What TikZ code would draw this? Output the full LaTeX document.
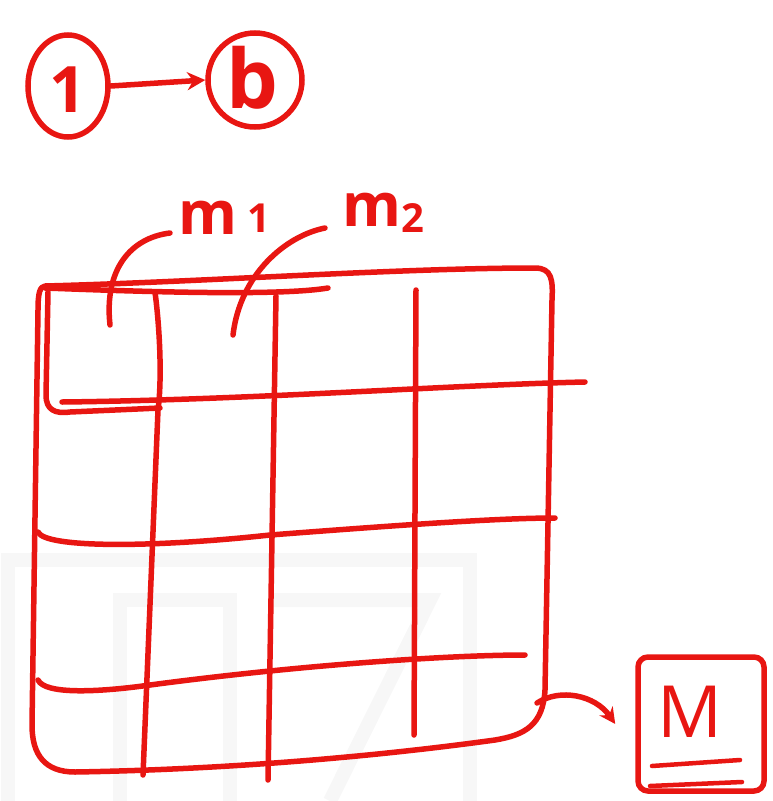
\documentclass[tikz,border=0pt]{standalone}
\usepackage{fontspec}
\setmainfont{Open Sans}
\usetikzlibrary{arrows.meta,shapes.geometric}
\definecolor{pen}{RGB}{232,22,18}
\definecolor{wm}{RGB}{247,247,247}
\tikzset{
  ink/.style={draw=pen, line width=5.5pt, line cap=round, line join=round},
  thinink/.style={draw=pen, line width=4.5pt, line cap=round, line join=round},
  hand/.style={text=pen, inner sep=0pt},
  wmark/.style={draw=wm, line width=14pt},
}
\begin{document}
\begin{tikzpicture}[x=1pt,y=-1pt]
\useasboundingbox (0,0) rectangle (773,801);
% faint watermark
\draw[wmark] (8,801) -- (8,560) -- (470,560) -- (470,801);
\draw[wmark] (120,801) -- (120,600) -- (230,600) -- (230,801);
\draw[wmark] (270,600) -- (430,600) -- (330,801);
% top: 1 -> b
\node[hand, draw=pen, line width=5.5pt, ellipse, minimum width=80pt, minimum height=102pt] (n1) at (68,86) {};
\node[hand, font=\fontsize{64}{64}\selectfont\bfseries] (t1) at (68,90) {1};
\node[hand, draw=pen, line width=5.5pt, circle, minimum size=94pt] (nb) at (255,80) {};
\node[hand, font=\fontsize{82}{82}\selectfont\bfseries] (tb) at (252,78) {b};
\draw[ink, -{Stealth[length=18pt,width=18pt]}] (n1.east) -- (nb.west);
% labels m1 m2
\node[hand, font=\fontsize{60}{60}\selectfont\bfseries, anchor=base west] (m1) at (178,234) {m\,\raisebox{2pt}{\fontsize{40}{40}\selectfont 1}};
\node[hand, font=\fontsize{60}{60}\selectfont\bfseries, anchor=base west] (m2) at (342,226) {m\raisebox{-6pt}{\fontsize{40}{40}\selectfont 2}};
\coordinate (a1s) at (110,325);
\coordinate (a1e) at (170,233);
\coordinate (a2s) at (233,335);
\coordinate (a2e) at (325,228);
\draw[ink] (a1s) .. controls (104,270) and (130,238) .. (a1e);
\draw[ink] (a2s) .. controls (240,275) and (285,236) .. (a2e);
% grid outer box
\draw[ink] (45,286) .. controls (200,282) and (400,268) .. (535,268)
  .. controls (552,268) and (553,280) .. (552,300)
  -- (545,690) .. controls (543,725) and (525,735) .. (495,740)
  .. controls (350,760) and (200,770) .. (75,772)
  .. controls (45,772) and (32,755) .. (32,725)
  -- (38,310) .. controls (38,292) and (40,287) .. (45,286);
% extra top stroke
\draw[ink] (45,288) .. controls (150,292) and (280,296) .. (328,288);
% inner top-left cell box
\draw[ink] (48,292) -- (46,395) .. controls (46,410) and (55,414) .. (70,412) -- (160,408);
% vertical lines
\draw[ink] (155,292) .. controls (160,330) and (162,380) .. (158,410) -- (143,775);
\draw[ink] (276,296) -- (268,780);
\draw[ink] (416,290) -- (414,735);
% horizontal lines
\draw[ink] (62,402) .. controls (250,400) and (450,385) .. (585,382);
\draw[ink] (38,532) .. controls (45,548) and (150,548) .. (270,535) .. controls (400,525) and (500,518) .. (555,518);
\draw[ink] (38,680) .. controls (45,695) and (100,692) .. (150,685) .. controls (300,665) and (450,655) .. (525,655);
% result box M
\node[hand, draw=pen, line width=5.5pt, rounded corners=10pt, minimum width=126pt, minimum height=134pt] (nM) at (701,724) {};
\node[hand, font=\fontsize{72}{72}\selectfont] (tM) at (690,712) {M};
\draw[thinink] (652,766) -- (740,760);
\draw[thinink] (650,786) -- (742,782);
\coordinate (gbr) at (537,703);
\draw[ink, -{Stealth[length=16pt,width=16pt]}] (gbr) .. controls (560,688) and (595,695) .. ([xshift=-20pt]nM.west);
\end{tikzpicture}
\end{document}
